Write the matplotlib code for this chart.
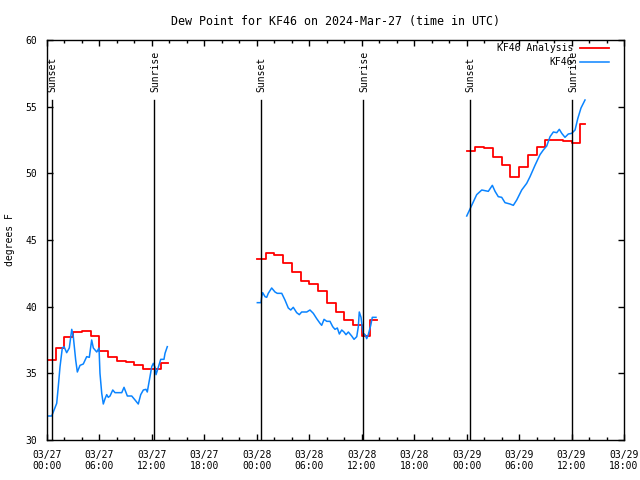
import numpy as np
import matplotlib.pyplot as plt
from matplotlib.ticker import MultipleLocator, FuncFormatter

# hours since 2024-03-27 00:00 UTC
# analysis (hourly, drawn as steps)
an_start = [0, 24, 48]
an_end = [13.84, 37.75, 61.54]
an1 = [36.0, 36.9, 37.75, 38.1, 38.2, 37.8, 36.7, 36.2, 35.9, 35.85, 35.6, 35.3, 35.35, 35.75]
an2 = [43.6, 44.0, 43.9, 43.3, 42.6, 41.9, 41.7, 41.2, 40.3, 39.6, 39.0, 38.6, 37.8, 39.0]
an3 = [51.7, 51.95, 51.9, 51.2, 50.6, 49.7, 50.45, 51.4, 52.0, 52.5, 52.5, 52.4, 52.3, 53.7]

# observations
ob1_t = [0.15, 0.54, 0.72, 1.11, 1.29, 1.49, 1.75, 1.95, 2.25, 2.55, 2.83, 3.01, 3.28, 3.47,
         3.78, 4.15, 4.54, 4.84, 5.11, 5.30, 5.69, 5.95, 6.06, 6.26, 6.44, 6.64, 6.83, 7.01,
         7.21, 7.52, 7.78, 8.55, 8.81, 9.19, 9.69, 10.07, 10.44, 10.72, 11.02, 11.32, 11.47,
         11.78, 11.98, 12.16, 12.36, 12.47, 12.73, 13.01, 13.38, 13.50, 13.76]
ob1_v = [31.8, 31.8, 32.1, 32.75, 34.0, 35.5, 36.9, 37.0, 36.55, 36.9, 38.3, 37.75, 36.0, 35.1,
         35.6, 35.7, 36.25, 36.2, 37.5, 36.9, 36.6, 36.9, 35.0, 33.5, 32.7, 33.1, 33.4, 33.2,
         33.3, 33.75, 33.55, 33.55, 33.95, 33.3, 33.3, 33.0, 32.7, 33.4, 33.75, 33.8, 33.6,
         34.75, 35.5, 35.75, 35.45, 34.9, 35.45, 36.05, 36.05, 36.5, 37.0]
ob2_t = [24.06, 24.48, 24.56, 24.67, 24.94, 25.13, 25.31, 25.70, 26.08, 26.34, 26.85, 27.22,
         27.60, 27.88, 28.17, 28.56, 28.86, 29.13, 29.71, 30.08, 30.46, 30.85, 31.23, 31.42,
         31.69, 32.00, 32.37, 32.68, 32.94, 33.21, 33.44, 33.71, 33.97, 34.20, 34.47, 34.85,
         35.12, 35.43, 35.61, 35.72, 35.92, 36.07, 36.18, 36.38, 36.57, 36.75, 37.03, 37.21, 37.63]
ob2_v = [40.3, 40.3, 40.75, 41.05, 40.75, 40.7, 41.0, 41.4, 41.1, 41.0, 41.0, 40.5,
         39.9, 39.75, 39.95, 39.55, 39.4, 39.6, 39.6, 39.75, 39.5, 39.1, 38.75, 38.6,
         39.05, 38.9, 38.9, 38.5, 38.3, 38.4, 37.95, 38.25, 38.1, 37.9, 38.1, 37.8,
         37.55, 37.75, 38.5, 39.6, 39.2, 38.4, 38.0, 37.9, 37.6, 37.9, 38.6, 39.2, 39.2]
ob3_t = [48.01, 48.58, 49.15, 49.73, 50.10, 50.48, 50.94, 51.25, 51.62, 52.01, 52.39, 52.96,
         53.34, 53.73, 54.30, 54.87, 55.25, 55.82, 56.39, 56.77, 57.16, 57.54, 57.92, 58.31,
         58.60, 58.88, 59.25, 59.63, 60.02, 60.40, 60.71, 61.08, 61.54]
ob3_v = [46.8, 47.6, 48.4, 48.75, 48.7, 48.65, 49.1, 48.65, 48.25, 48.2, 47.8, 47.7,
         47.6, 48.0, 48.75, 49.25, 49.75, 50.6, 51.4, 51.75, 52.05, 52.75, 53.1, 53.05,
         53.3, 53.0, 52.7, 52.95, 53.0, 53.25, 54.1, 54.9, 55.5]

sunset = [0.57, 24.48, 48.39]
sunrise = [12.24, 36.15, 60.05]
days = ['03/27', '03/28', '03/29']

plt.rcParams['font.family'] = 'DejaVu Sans Mono'
plt.rcParams['font.size'] = 7

fig = plt.figure(figsize=(6.4, 4.8), dpi=100)
ax = fig.add_axes([47 / 640, 40 / 480, 577 / 640, 400 / 480])

red = '#ff0000'
blue = '#0a84ff'

# analysis steps
for s, e, vals in zip(an_start, an_end, [an1, an2, an3]):
    t = list(np.arange(s, s + len(vals))) + [e]
    v = vals + [vals[-1]]
    ax.plot(t, v, drawstyle='steps-post', color=red, lw=1.3,
            label='KF46 Analysis' if s == 0 else None)

for t, v in [(ob1_t, ob1_v), (ob2_t, ob2_v), (ob3_t, ob3_v)]:
    ax.plot(t, v, color=blue, lw=1.1, label='KF46' if t is ob1_t else None)

# sunrise / sunset markers
for h in sunset:
    ax.axvline(h, ymin=0, ymax=0.85, color='black', lw=1)
    ax.text(h, 0.87, 'Sunset', rotation=90, ha='center', va='bottom',
            transform=ax.get_xaxis_transform())
for h in sunrise:
    ax.axvline(h, ymin=0, ymax=0.85, color='black', lw=1)
    ax.text(h + 0.2, 0.87, 'Sunrise', rotation=90, ha='center', va='bottom',
            transform=ax.get_xaxis_transform())

ax.set_xlim(0, 66)
ax.set_ylim(30, 60)
ax.xaxis.set_major_locator(MultipleLocator(6))
ax.xaxis.set_minor_locator(MultipleLocator(2))
ax.yaxis.set_major_locator(MultipleLocator(5))


def fmt(x, pos):
    d = int(x // 24)
    return '%s\n%02d:00' % (days[min(d, 2)], int(x % 24))


ax.xaxis.set_major_formatter(FuncFormatter(fmt))
ax.tick_params(which='both', direction='in', top=True, right=True, color='black')
ax.tick_params(which='major', length=4, width=1, pad=7)
ax.tick_params(which='minor', length=2, width=1)
ax.tick_params(axis='y', pad=7)
for sp in ax.spines.values():
    sp.set_linewidth(1)

fig.text(10 / 640, 0.5, 'degrees F', rotation=90, ha='center', va='center')
ax.set_title('Dew Point for KF46 on 2024-Mar-27 (time in UTC)', pad=11)

ax.legend(loc='upper right', bbox_to_anchor=(0.976, 0.995), frameon=False,
          markerfirst=False, handlelength=3.0, handletextpad=0.7,
          labelspacing=0.45, borderpad=0.1, borderaxespad=0)

fig.savefig('out.png', dpi=100)
